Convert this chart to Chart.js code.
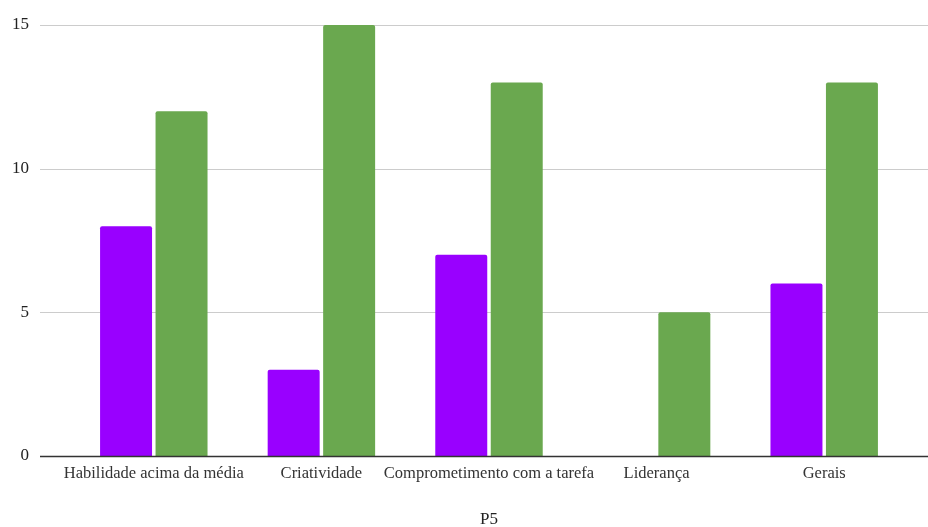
<!DOCTYPE html>
<html>
<head>
<meta charset="utf-8">
<script src="https://cdn.jsdelivr.net/npm/chart.js@4"></script>
<style>
  html, body { margin: 0; padding: 0; background: #ffffff; }
  #wrap { width: 928px; height: 527px; position: relative; }
</style>
</head>
<body>
<div id="wrap"><canvas id="chart" width="928" height="527"></canvas></div>
<script>
// Categories and series
const categories = ['Habilidade acima da média', 'Criatividade', 'Comprometimento com a tarefa', 'Liderança', 'Gerais'];
const seriesPurple = [8, 3, 7, 0, 6];
const seriesGreen = [12, 15, 13, 5, 13];
const yTicks = [0, 5, 10, 15];
const axisTitle = 'P5';

const serif = "'Liberation Serif', 'Times New Roman', serif";

// Horizontal gridlines spanning the full width, plus the darker baseline at zero
function drawBaseline(chart) {
  const { ctx, scales: { y } } = chart;
  const py = Math.round(y.getPixelForValue(0)) + 0.5;
  ctx.save();
  ctx.beginPath();
  ctx.moveTo(40, py);
  ctx.lineTo(chart.width, py);
  ctx.lineWidth = 1.5;
  ctx.strokeStyle = '#333333';
  ctx.stroke();
  ctx.restore();
}

const fullGrid = {
  id: 'fullGrid',
  beforeDatasetsDraw(chart) {
    const { ctx, scales: { y } } = chart;
    ctx.save();
    yTicks.filter(v => v !== 0).forEach(v => {
      const py = Math.round(y.getPixelForValue(v)) + 0.5;
      ctx.beginPath();
      ctx.moveTo(40, py);
      ctx.lineTo(chart.width, py);
      ctx.lineWidth = 1;
      ctx.strokeStyle = '#cccccc';
      ctx.stroke();
    });
    ctx.restore();
  },
  afterDatasetsDraw(chart) { drawBaseline(chart); }
};

const barStyle = {
  borderRadius: { topLeft: 2, topRight: 2, bottomLeft: 0, bottomRight: 0 },
  borderSkipped: 'start',
  categoryPercentage: 0.662,
  barPercentage: 0.937
};

new Chart(document.getElementById('chart'), {
  type: 'bar',
  data: {
    labels: categories,
    datasets: [
      Object.assign({ data: seriesPurple, backgroundColor: '#9900ff' }, barStyle),
      Object.assign({ data: seriesGreen, backgroundColor: '#6aa84f' }, barStyle)
    ]
  },
  options: {
    responsive: false,
    animation: false,
    layout: { padding: { top: 25, right: 20, bottom: 0, left: 0 } },
    plugins: {
      legend: { display: false },
      tooltip: { enabled: false }
    },
    scales: {
      x: {
        grid: { display: false, drawTicks: false },
        border: { display: false },
        afterFit(scale) { scale.height = 71; },
        ticks: {
          color: '#333333',
          padding: 8,
          maxRotation: 0,
          autoSkip: false,
          font: { family: serif, size: 16.5 }
        },
        title: {
          display: true,
          text: axisTitle,
          color: '#222222',
          padding: { top: 0, bottom: 0 },
          font: { family: serif, size: 17, lineHeight: 0.9 }
        }
      },
      y: {
        min: 0,
        max: 15,
        afterFit(scale) {
          scale.width = 70;
          scale.paddingTop = 0;
          scale.paddingBottom = 0;
        },
        afterBuildTicks(scale) { scale.ticks = yTicks.map(v => ({ value: v })); },
        grid: { display: false, drawTicks: false },
        border: { display: false },
        ticks: {
          color: '#222222',
          padding: 41,
          font: { family: serif, size: 17 }
        }
      }
    }
  },
  plugins: [fullGrid]
});
</script>
</body>
</html>
